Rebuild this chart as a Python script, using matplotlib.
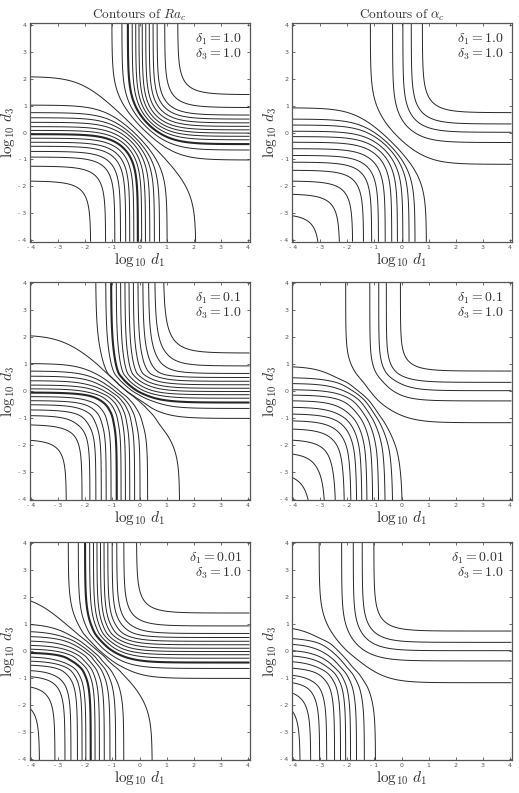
import numpy as np
import matplotlib
matplotlib.use("Agg")
import matplotlib.pyplot as plt

plt.rcParams['mathtext.fontset'] = 'cm'
plt.rcParams['font.family'] = ['DejaVu Sans']

# ---------------- data ----------------
DELTA1 = ["1.0", "0.1", "0.01"]
DELTA3 = "1.0"
TICKS = [-4, -3, -2, -1, 0, 1, 2, 3, 4]
TICK_LABELS = ["- 4", "- 3", "- 2", "- 1", "0", "1", "2", "3", "4"]

# Ra_c : lower-left contours (heights where they meet the left edge)
RA_LL_LEFT = [-1.80, -1.25, -0.91, -0.70, -0.51, -0.36, -0.21, -0.06,
              0.08, 0.22, 0.38, 0.55, 0.74, 1.02, 2.08]
# Ra_c : lower-left contours, positions where they meet the bottom edge
RA_LL_BOTTOM_1 = [-1.80, -1.25, -0.91, -0.70, -0.51, -0.36, -0.21, -0.06,
                  0.08, 0.22, 0.38, 0.55, 0.74, 1.02, 2.08]
RA_LL_BOTTOM_01 = [-2.70, -2.12, -1.83, -1.61, -1.41, -1.23, -1.05, -0.84,
                   -0.68, -0.52, -0.36, -0.18, 0.02, 0.30, 1.48]
RA_LL_BOTTOM_001 = [-3.69, -3.12, -2.75, -2.53, -2.29, -2.12, -1.98, -1.80,
                    -1.64, -1.48, -1.30, -1.09, -0.88, -0.58, 0.47]
# Ra_c : upper-right contours (right edge heights, top edge positions)
RA_UR_RIGHT = [-1.02, -0.65, -0.43, -0.27, -0.14, -0.02, 0.10, 0.23,
               0.36, 0.50, 0.65, 0.93, 1.41]
RA_UR_TOP_1 = [-1.02, -0.65, -0.43, -0.27, -0.14, -0.02, 0.10, 0.23,
               0.36, 0.50, 0.65, 0.93, 1.41]
RA_UR_TOP_01 = [-1.62, -1.25, -1.05, -0.86, -0.70, -0.54, -0.39, -0.23,
                -0.06, 0.12, 0.33, 0.56, 0.88]
RA_UR_TOP_001 = [-2.63, -2.26, -2.01, -1.84, -1.70, -1.57, -1.44, -1.31,
                 -1.17, -1.01, -0.84, -0.58, -0.11]
RA_THICK_LL = 7
RA_THICK_UR = 2

# alpha_c : lower-left contours
ALPHA_LL_LEFT = [-3.02, -2.28, -1.80, -1.40, -1.10, -0.85, -0.60, -0.36,
                 -0.15, 0.05, 0.28, 0.50, 0.92]
ALPHA_LL_BOTTOM_1 = [-3.02, -2.28, -1.80, -1.40, -1.10, -0.85, -0.60, -0.36,
                     -0.15, 0.05, 0.28, 0.50, 0.92]
ALPHA_LL_BOTTOM_01 = [-3.30, -2.80, -2.42, -2.10, -1.86, -1.65, -1.46, -1.27,
                      -1.06, -0.84, -0.60, -0.32, 0.04]
ALPHA_LL_BOTTOM_001 = [-3.74, -3.35, -3.02, -2.76, -2.47, -2.25, -2.06, -1.88,
                       -1.66, -1.37, -0.96]
# alpha_c : upper-right contours
ALPHA_UR_RIGHT = [-1.18, -0.37, 0.01, 0.32, 0.74]
ALPHA_UR_TOP_1 = [-1.15, -0.33, 0.05, 0.36, 0.77]
ALPHA_UR_TOP_01 = [-2.06, -1.17, -0.84, -0.56, -0.04]
ALPHA_UR_TOP_001 = [-3.04, -2.21, -1.78, -1.45, -1.02]

RA_BOTTOMS = [RA_LL_BOTTOM_1, RA_LL_BOTTOM_01, RA_LL_BOTTOM_001]
RA_TOPS = [RA_UR_TOP_1, RA_UR_TOP_01, RA_UR_TOP_001]
ALPHA_BOTTOMS = [ALPHA_LL_BOTTOM_1, ALPHA_LL_BOTTOM_01, ALPHA_LL_BOTTOM_001]
ALPHA_TOPS = [ALPHA_UR_TOP_1, ALPHA_UR_TOP_01, ALPHA_UR_TOP_001]

# ---------------- helpers ----------------
LIM = 4.06
LINE = '#262626'
TXT = '#333333'
FRAME = '#555555'


def sig(z):
    return 1.0 / (1.0 + np.exp(-z))


def pchip(xk, yk):
    xk = np.asarray(xk, float)
    yk = np.asarray(yk, float)
    h = np.diff(xk)
    d = np.diff(yk) / h
    n = len(xk)
    m = np.empty(n)
    m[0] = d[0]
    m[-1] = d[-1]
    for i in range(1, n - 1):
        if d[i - 1] * d[i] <= 0:
            m[i] = 0.0
        else:
            w1 = 2 * h[i] + h[i - 1]
            w2 = h[i] + 2 * h[i - 1]
            m[i] = (w1 + w2) / (w1 / d[i - 1] + w2 / d[i])

    def f(x):
        x = np.asarray(x, float)
        out = np.empty_like(x)
        lo = x < xk[0]
        hi = x > xk[-1]
        out[lo] = yk[0] + m[0] * (x[lo] - xk[0])
        out[hi] = yk[-1] + m[-1] * (x[hi] - xk[-1])
        mid = ~(lo | hi)
        xm = x[mid]
        i = np.clip(np.searchsorted(xk, xm) - 1, 0, n - 2)
        t = (xm - xk[i]) / h[i]
        h00 = 2 * t**3 - 3 * t**2 + 1
        h10 = t**3 - 2 * t**2 + t
        h01 = -2 * t**3 + 3 * t**2
        h11 = t**3 - t**2
        out[mid] = (h00 * yk[i] + h10 * h[i] * m[i] + h01 * yk[i + 1]
                    + h11 * h[i] * m[i + 1])
        return out
    return f


def draw_panel(ax, ll_bottom, ll_left, ur_top, ur_right,
               thick_ll=None, thick_ur=None):
    ll_bottom = np.asarray(ll_bottom, float)
    ll_left = np.asarray(ll_left, float)[-len(ll_bottom):]
    ur_top = np.asarray(ur_top, float)
    ur_right = np.asarray(ur_right, float)[-len(ur_top):]
    cx = 0.5 * (np.median(ll_bottom) + np.median(ur_top))
    s = 0.5
    tau = (ll_bottom - cx) / s
    ups = (ur_top - cx) / s
    q_ll = pchip(ll_left, tau)
    q_ur = pchip(ur_right, ups)
    g = np.linspace(-LIM, LIM, 801)
    X, Y = np.meshgrid(g, g)
    px = sig((X - cx) / s)
    F_ll = px + sig(q_ll(g))[:, None]
    F_ur = px + sig(q_ur(g))[:, None]
    lw_ll = [1.5 if k == thick_ll else 0.7 for k in range(len(tau))]
    lw_ur = [1.5 if k == thick_ur else 0.7 for k in range(len(ups))]
    ax.contour(X, Y, F_ll, levels=sig(tau), colors=LINE, linewidths=lw_ll)
    ax.contour(X, Y, F_ur, levels=1.0 + sig(ups), colors=LINE, linewidths=lw_ur)


def style_axes(ax):
    ax.set_xlim(-LIM, LIM)
    ax.set_ylim(-LIM, LIM)
    ax.set_xticks(TICKS)
    ax.set_yticks(TICKS)
    ax.set_xticklabels(TICK_LABELS)
    ax.set_yticklabels(TICK_LABELS)
    ax.tick_params(direction='in', length=2.5, width=0.6, top=True,
                   right=True, labelsize=4.5, labelcolor='#555555',
                   color=FRAME, pad=2)
    for sp in ax.spines.values():
        sp.set_color(FRAME)
        sp.set_linewidth(0.9)
    ax.set_xlabel(r'$\log_{10}\, d_1$', fontsize=11, color=TXT)
    ax.set_ylabel(r'$\log_{10}\, d_3$', fontsize=11, color=TXT)
    ax.xaxis.set_label_coords(0.5, -0.04)
    ax.yaxis.set_label_coords(-0.058, 0.5)


# ---------------- figure ----------------
W, H = 519, 793
fig = plt.figure(figsize=(W / 100, H / 100), dpi=100)

col_left = [29.5, 291.5]
row_top = [23.3, 281.7, 541.7]
aw, ah = 220.0, 218.5

for r in range(3):
    for c in range(2):
        rect = [col_left[c] / W, 1 - (row_top[r] + ah) / H, aw / W, ah / H]
        ax = fig.add_axes(rect)
        if c == 0:
            draw_panel(ax, RA_BOTTOMS[r], RA_LL_LEFT, RA_TOPS[r], RA_UR_RIGHT,
                       RA_THICK_LL, RA_THICK_UR)
        else:
            draw_panel(ax, ALPHA_BOTTOMS[r], ALPHA_LL_LEFT, ALPHA_TOPS[r],
                       ALPHA_UR_RIGHT)
        style_axes(ax)
        ax.text(0.9645, 0.910, r'$\delta_1 = %s$' % DELTA1[r],
                transform=ax.transAxes, ha='right', va='baseline',
                fontsize=10, color=TXT)
        ax.text(0.9645, 0.841, r'$\delta_3 = %s$' % DELTA3,
                transform=ax.transAxes, ha='right', va='baseline',
                fontsize=10, color=TXT)
        if r == 0:
            title = (r'$\mathrm{Contours\ of\ }Ra_c$' if c == 0
                     else r'$\mathrm{Contours\ of\ }\alpha_c$')
            ax.set_title(title, fontsize=9.5, color=TXT, pad=3)

fig.savefig('out.png', dpi=100)
